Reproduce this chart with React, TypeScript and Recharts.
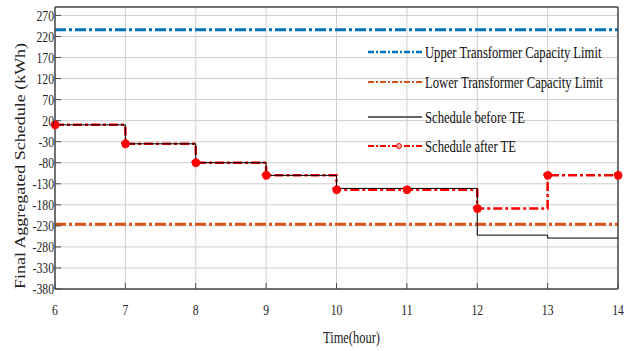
import { CartesianGrid, Line, LineChart, ReferenceLine, XAxis, YAxis } from "recharts";

const hours = [6, 7, 8, 9, 10, 11, 12, 13, 14];
const scheduleBefore = [10, -35, -80, -110, -141, -141, -252, -259, -259];
const scheduleAfter = [10, -35, -80, -110, -144, -144, -189, -110, -110];
const upperLimit = 236;
const lowerLimit = -226;
const yTicks = [270, 220, 170, 120, 70, 20, -30, -80, -130, -180, -230, -280, -330, -380];

const legendItems = [
  { label: "Upper Transformer Capacity Limit", color: "#0072BD", dash: "6 2 2 2", width: 2.5 },
  { label: "Lower Transformer Capacity Limit", color: "#D95319", dash: "6 2 2 2", width: 1.8 },
  { label: "Schedule before TE", color: "#333", dash: undefined, width: 1.3 },
  { label: "Schedule after TE", color: "#ff0000", dash: "6 2 2 2", width: 2 },
];

const data = hours.map((h, i) => ({ hour: h, before: scheduleBefore[i], after: scheduleAfter[i] }));

const serif = "'Liberation Serif', 'Times New Roman', serif";
const frame = "#4a4a4a";

function XTick({ x, y, payload }: any) {
  return (
    <g transform={`translate(${x},${y})`}>
      <text transform="scale(0.78,1)" textAnchor="middle" dy="0.71em" fontFamily={serif} fontSize={15} fill="#222">
        {payload.value}
      </text>
    </g>
  );
}

function YTick({ x, y, payload }: any) {
  return (
    <g transform={`translate(${x},${y})`}>
      <text transform="scale(0.78,1)" textAnchor="end" dy="0.35em" fontFamily={serif} fontSize={15} fill="#222">
        {payload.value}
      </text>
    </g>
  );
}

function YLabel({ viewBox }: any) {
  const cx = viewBox.x + 20;
  const cy = viewBox.y + viewBox.height / 2 + 18;
  return (
    <text
      transform={`translate(${cx},${cy}) scale(0.78,1) rotate(-90)`}
      textAnchor="middle"
      dy="0.35em"
      fontFamily={serif}
      fontSize={18}
      fill="#222"
    >
      Final Aggregated Schedule (kWh)
    </text>
  );
}

function XLabel({ viewBox }: any) {
  const cx = viewBox.x + viewBox.width / 2 + 15;
  const by = viewBox.y + viewBox.height - 2;
  return (
    <text transform={`translate(${cx},${by}) scale(0.78,1)`} textAnchor="middle" fontFamily={serif} fontSize={16} fill="#222">
      Time(hour)
    </text>
  );
}

function ChartLegend() {
  const rows = [16, 46, 81, 110];
  return (
    <svg width={270} height={125} style={{ position: "absolute", left: 366, top: 36 }}>
      {legendItems.map((it, i) => (
        <g key={it.label}>
          <line x1={2} x2={56} y1={rows[i]} y2={rows[i]} stroke={it.color} strokeWidth={it.width} strokeDasharray={it.dash} />
          {i === 3 && <circle cx={33} cy={rows[i]} r={2.5} fill="#ffb0b0" stroke="#ff0000" strokeWidth={1} />}
          <g transform={`translate(59,${rows[i]}) scale(0.79,1)`}>
            <text dy="0.35em" fontFamily={serif} fontSize={16} fill="#111">
              {it.label}
            </text>
          </g>
        </g>
      ))}
    </svg>
  );
}

export default function App() {
  return (
    <div style={{ position: "absolute", left: 0, top: 0, width: 638, height: 351, background: "#fff" }}>
      <LineChart width={638} height={351} data={data} margin={{ top: 6, right: 19, left: 0, bottom: 6 }}>
        <CartesianGrid stroke="#cfcfcf" strokeWidth={1} />
        <XAxis
          dataKey="hour"
          type="number"
          domain={[6, 14]}
          ticks={hours}
          height={56}
          tickSize={-6}
          tickMargin={21}
          tick={<XTick />}
          stroke={frame}
          axisLine={{ stroke: frame, strokeWidth: 1.5 }}
          tickLine={{ stroke: frame }}
          label={<XLabel />}
        />
        <XAxis
          xAxisId="top"
          orientation="top"
          dataKey="hour"
          type="number"
          domain={[6, 14]}
          ticks={hours}
          height={1}
          tickSize={-6}
          tick={false}
          axisLine={{ stroke: frame, strokeWidth: 1.5 }}
          tickLine={{ stroke: frame }}
        />
        <YAxis
          type="number"
          domain={[-380, 290]}
          ticks={yTicks}
          width={55}
          tickSize={-6}
          tickMargin={7}
          tick={<YTick />}
          axisLine={{ stroke: frame, strokeWidth: 1.5 }}
          tickLine={{ stroke: frame }}
          label={<YLabel />}
          interval={0}
        />
        <YAxis
          yAxisId="right"
          orientation="right"
          type="number"
          domain={[-380, 290]}
          ticks={yTicks}
          width={1}
          tickSize={-6}
          tick={false}
          axisLine={{ stroke: frame, strokeWidth: 1.5 }}
          tickLine={{ stroke: frame }}
          interval={0}
        />
        <ReferenceLine y={upperLimit} stroke="#0072BD" strokeWidth={3} strokeDasharray="11 3 3 3" />
        <ReferenceLine y={lowerLimit} stroke="#D95319" strokeWidth={3} strokeDasharray="11 3 3 3" />
        <Line
          dataKey="after"
          type="stepAfter"
          stroke="#ff0000"
          strokeWidth={2.5}
          strokeDasharray="9 3 3 3"
          dot={{ r: 4, fill: "#ff0000", stroke: "#ff0000", strokeWidth: 1 }}
          isAnimationActive={false}
        />
        <Line dataKey="before" type="stepAfter" stroke="#000" strokeWidth={1} dot={false} isAnimationActive={false} />
      </LineChart>
      <ChartLegend />
    </div>
  );
}
